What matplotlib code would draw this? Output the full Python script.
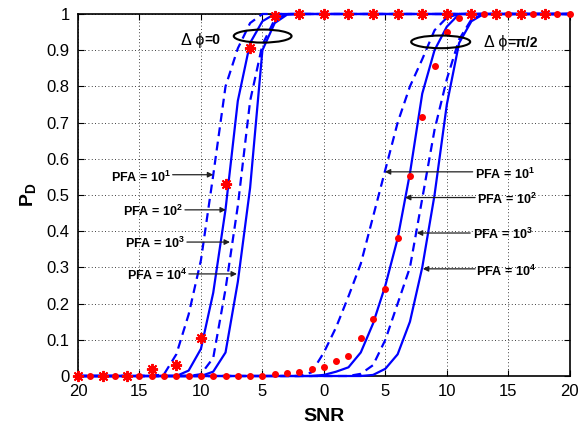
import numpy as np
import matplotlib
matplotlib.use('Agg')
import matplotlib.pyplot as plt
from matplotlib.patches import Ellipse

plt.rcParams['font.family'] = ['Liberation Sans', 'DejaVu Sans']
plt.rcParams['mathtext.fontset'] = 'custom'
plt.rcParams['mathtext.rm'] = 'Liberation Sans:bold'
plt.rcParams['mathtext.it'] = 'Liberation Sans:bold'
plt.rcParams['mathtext.bf'] = 'Liberation Sans:bold'

# SNR axis (dB), one point per dB
snr = np.arange(-20, 21)

# theory curves, delta phi = 0
pd0_pfa1 = [0] * 7 + [0.005, 0.06, 0.17, 0.32, 0.555, 0.8, 0.905, 0.975] + [1] * 26
pd0_pfa2 = [0] * 9 + [0.015, 0.075, 0.23, 0.46, 0.76, 0.92, 0.98] + [1] * 25
pd0_pfa3 = [0] * 10 + [0.005, 0.05, 0.24, 0.47, 0.76, 0.915, 0.985] + [1] * 24
pd0_pfa4 = [0] * 11 + [0.012, 0.065, 0.26, 0.52, 0.9, 0.975, 0.998] + [1] * 23

# theory curves, delta phi = pi/2
pd90_pfa1 = [0] * 19 + [0.01, 0.065, 0.135, 0.22, 0.31, 0.44, 0.57, 0.7, 0.8, 0.875, 0.955, 0.99] + [1] * 10
pd90_pfa2 = [0] * 20 + [0.003, 0.012, 0.024, 0.065, 0.145, 0.25, 0.38, 0.56, 0.78, 0.9, 0.965] + [1] * 10
pd90_pfa3 = [0] * 23 + [0.006, 0.03, 0.1, 0.2, 0.3, 0.49, 0.68, 0.82, 0.93, 0.985] + [1] * 8
pd90_pfa4 = [0] * 24 + [0.003, 0.02, 0.06, 0.15, 0.3, 0.5, 0.75, 0.92, 0.98] + [1] * 8

# simulation points
snr_sim0 = np.arange(-20, 20, 2)
sim0 = [0, 0, 0, 0.02, 0.03, 0.105, 0.53, 0.905, 0.995, 1] + [1] * 10
sim90 = [0] * 16 + [0.005, 0.008, 0.012, 0.019, 0.025, 0.042, 0.056, 0.104,
                    0.157, 0.24, 0.38, 0.553, 0.716, 0.855, 0.95, 0.99] + [1] * 9

xtick_vals = [-20, -15, -10, -5, 0, 5, 10, 15, 20]
xtick_labels = ['20', '15', '10', '5', '0', '5', '10', '15', '20']
ytick_vals = [0, 0.1, 0.2, 0.3, 0.4, 0.5, 0.6, 0.7, 0.8, 0.9, 1]
ytick_labels = ['0', '0.1', '0.2', '0.3', '0.4', '0.5', '0.6', '0.7', '0.8', '0.9', '1']

pfa_labels = ['PFA = 10$^{1}$', 'PFA = 10$^{2}$', 'PFA = 10$^{3}$', 'PFA = 10$^{4}$']
# (text x, text y, arrow tail x, arrow head x, arrow y)
left_notes = [(-12.44, 0.549, -12.3, -9.0, 0.556),
              (-11.46, 0.456, -11.3, -7.97, 0.459),
              (-11.30, 0.367, -11.14, -7.64, 0.370),
              (-11.14, 0.279, -10.98, -7.07, 0.282)]
right_notes = [(12.28, 0.558, 12.1, 4.96, 0.564),
               (12.44, 0.489, 12.3, 6.6, 0.493),
               (12.11, 0.392, 11.9, 7.56, 0.395),
               (12.36, 0.290, 12.3, 8.05, 0.296)]

BLUE = '#0000ff'
RED = '#ff0000'

fig = plt.figure(figsize=(5.82, 4.36), dpi=100)
ax = fig.add_axes([0.134, 0.1376, 0.845, 0.8303])

dash = (4, 2.5)
for curves in [(pd0_pfa1, pd0_pfa2, pd0_pfa3, pd0_pfa4),
               (pd90_pfa1, pd90_pfa2, pd90_pfa3, pd90_pfa4)]:
    for i, pd in enumerate(curves):
        if i % 2 == 0:
            ax.plot(snr, pd, color=BLUE, lw=1.6, dashes=dash, clip_on=False, zorder=3)
        else:
            ax.plot(snr, pd, color=BLUE, lw=1.6, clip_on=False, zorder=3)

ax.plot(snr, sim90, 'o', color=RED, ms=4, mec=RED, clip_on=False, zorder=4)
ax.plot(snr_sim0, sim0, ls='none', marker=(8, 2, 0), color=RED, ms=8, mew=1.4,
        clip_on=False, zorder=5)

ax.add_patch(Ellipse((-4.98, 0.939), 4.7, 0.036, fill=False, ec='k', lw=1.5, zorder=6))
ax.add_patch(Ellipse((9.5, 0.923), 4.8, 0.035, fill=False, ec='k', lw=1.5, zorder=6))

ax.text(-9.72, 0.928, 'Δ ϕ', ha='right', va='center', fontsize=11.5)
ax.text(-9.72, 0.928, '=0', ha='left', va='center', fontsize=10, fontweight='bold')
ax.text(14.96, 0.921, 'Δ ϕ', ha='right', va='center', fontsize=11.5)
ax.text(14.96, 0.921, '=π/2', ha='left', va='center', fontsize=10, fontweight='bold')

arrow = dict(arrowstyle='-|>', color='#222222', lw=0.9, mutation_scale=8,
             shrinkA=0, shrinkB=0)
for lab, (tx, ty, x0, x1, ay) in zip(pfa_labels, left_notes):
    ax.text(tx, ty, lab, ha='right', va='center', fontsize=9, fontweight='bold')
    ax.annotate('', xy=(x1, ay), xytext=(x0, ay), arrowprops=arrow)
for lab, (tx, ty, x0, x1, ay) in zip(pfa_labels, right_notes):
    ax.text(tx, ty, lab, ha='left', va='center', fontsize=9, fontweight='bold')
    ax.annotate('', xy=(x1, ay), xytext=(x0, ay), arrowprops=arrow)

ax.set_xlim(-20, 20)
ax.set_ylim(0, 1)
ax.set_xticks(xtick_vals)
ax.set_xticklabels(xtick_labels)
ax.set_yticks(ytick_vals)
ax.set_yticklabels(ytick_labels)
ax.tick_params(direction='in', top=True, right=True, labelsize=12, length=4, width=0.8, pad=6)
ax.grid(True, linestyle=(0, (1, 3)), color='k', lw=0.6)
for s in ax.spines.values():
    s.set_linewidth(1.2)

ax.set_xlabel('SNR', fontsize=14, fontweight='bold', labelpad=6)
ax.set_ylabel('$\\mathbf{P_D}$', fontsize=14, labelpad=6)

fig.savefig('out.png', dpi=100)
